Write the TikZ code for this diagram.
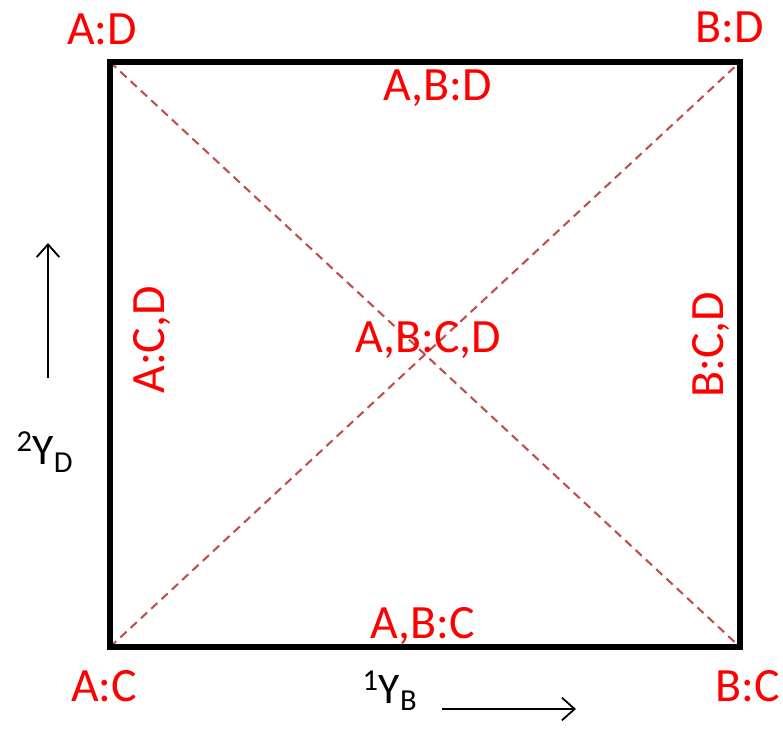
\documentclass[tikz,border=0pt]{standalone}
\usepackage{fontspec}
\setmainfont{Carlito}
\usetikzlibrary{arrows.meta}
\definecolor{diagred}{RGB}{192,80,77}
\begin{document}
\begin{tikzpicture}[x=0.025cm, y=-0.025cm,
    lbl/.style={text=red, font=\fontsize{34}{34}\selectfont, inner sep=0pt},
    axlbl/.style={font=\fontsize{31}{31}\selectfont, inner sep=0pt},
    diag/.style={diagred, line width=1.5pt, dash pattern=on 6pt off 4pt},
    >={Straight Barb[length=9pt,width=16pt]}]
    \useasboundingbox (0,0) rectangle (783,731);

    % Square corners
    \coordinate (ac) at (110,647);
    \coordinate (bc) at (740,647);
    \coordinate (bd) at (740,62);
    \coordinate (ad) at (110,62);

    % Diagonals
    \draw[diag] (ac) -- (bd);
    \draw[diag] (ad) -- (bc);

    % Square
    \draw[line width=3.6pt, line join=miter] (ac) -- (bc) -- (bd) -- (ad) -- cycle;

    % Corner labels
    \node[lbl] (lad) at (102,29) {A:D};
    \node[lbl] (lbd) at (730,27) {B:D};
    \node[lbl] (lac) at (104,686) {A:C};
    \node[lbl] (lbc) at (748,686) {B:C};

    % Edge and centre labels
    \node[lbl] (labd) at (438,88) {A,B:D};
    \node[lbl] (labc) at (423,626) {A,B:C};
    \node[lbl, rotate=90] (lacd) at (152,340) {A:C,D};
    \node[lbl, rotate=90] (lbcd) at (711,345) {B:C,D};
    \node[lbl] (labcd) at (428,340) {A,B:C,D};

    % Axes
    \node[axlbl] (yb) at (390,691) {\textsuperscript{1}Y\textsubscript{B}};
    \coordinate (xs) at (442,709);
    \coordinate (xe) at (576,709);
    \draw[->, line width=1.3pt] (xs) -- (xe);

    \node[axlbl] (yd) at (45,452) {\textsuperscript{2}Y\textsubscript{D}};
    \coordinate (ys) at (48,378);
    \coordinate (ye) at (48,243);
    \draw[->, line width=1.3pt] (ys) -- (ye);
\end{tikzpicture}
\end{document}
